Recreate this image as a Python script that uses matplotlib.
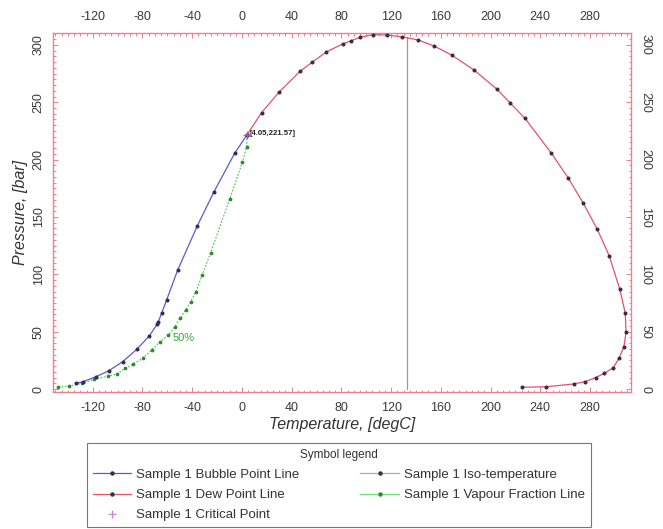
import matplotlib
matplotlib.use("Agg")
import matplotlib.pyplot as plt
from matplotlib.ticker import MultipleLocator
from matplotlib.lines import Line2D

plt.rcParams['font.family'] = ['Liberation Sans', 'DejaVu Sans']
plt.rcParams['axes.unicode_minus'] = False

# Bubble point line (temperature degC, pressure bar)
bubble_t = [-133.5, -127.7, -117.5, -107.0, -96.0, -84.7, -74.6, -68.0, -67.3,
            -64.6, -60.6, -51.7, -36.0, -22.5, -5.6, 4.05]
bubble_p = [5.0, 6.4, 10.7, 16.0, 23.8, 34.5, 46.2, 56.7, 58.7,
            66.0, 77.6, 103.7, 142.0, 172.0, 206.0, 221.57]

# Dew point line, from the critical point round to low pressure
dew_t = [4.05, 15.8, 30.0, 46.7, 56.6, 68.0, 81.0, 88.0, 95.0, 105.6, 117.0, 129.0,
         141.8, 154.7, 169.0, 186.9, 205.0, 215.6, 227.7, 249.0, 262.5, 274.6,
         285.8, 295.5, 304.0, 308.4, 309.0, 307.3, 303.3, 298.7, 291.5, 284.5,
         276.0, 267.0, 245.0, 225.0]
dew_p = [221.57, 241.0, 259.0, 277.0, 285.0, 294.0, 300.8, 303.7, 306.6, 309.0, 308.6,
         307.0, 304.3, 299.0, 291.0, 278.0, 261.5, 249.6, 236.0, 205.5, 184.0,
         162.0, 139.5, 116.0, 87.0, 66.0, 49.4, 36.9, 26.7, 18.6, 13.7, 9.9,
         6.4, 4.4, 2.0, 1.5]

# 50 % vapour fraction line
vap_t = [-147.8, -139.0, -129.0, -118.8, -107.6, -100.8, -94.0, -87.4, -79.9,
         -72.6, -66.0, -59.3, -53.9, -49.9, -45.3, -41.3, -37.0, -32.0, -25.2,
         -9.7, 0.3, 3.7, 4.05]
vap_p = [2.0, 2.6, 5.0, 8.4, 11.3, 13.0, 18.0, 21.8, 26.7,
         34.0, 41.2, 47.0, 54.3, 61.6, 68.9, 76.0, 84.8, 99.4, 118.8,
         166.0, 197.6, 211.0, 221.57]

# Iso-temperature line
iso_t = [132.5, 132.5]
iso_p = [0.0, 307.0]

# Critical point
crit_t = 4.05
crit_p = 221.57

x_ticks = [-120, -80, -40, 0, 40, 80, 120, 160, 200, 240, 280]
y_ticks = [0, 50, 100, 150, 200, 250, 300]

W, H = 663, 529
fig = plt.figure(figsize=(W / 100, H / 100), dpi=100)
fig.patch.set_facecolor('white')
ax = fig.add_axes([53 / W, 1 - 392 / H, (631 - 53) / W, (392 - 33) / H])

blue = '#5a5ad6'
red = '#e8506a'
green = '#3cc43c'
grey = '#9a9a9a'
mk = '#30304a'

ax.plot(bubble_t, bubble_p, color=blue, lw=0.9, marker='o', ms=1.9,
        mfc=mk, mec=mk, label='Sample 1 Bubble Point Line', zorder=3)
ax.plot(dew_t, dew_p, color=red, lw=0.9, marker='o', ms=1.9,
        mfc=mk, mec=mk, label='Sample 1 Dew Point Line', zorder=3)
ax.plot(vap_t, vap_p, color=green, lw=0.8, ls=(0, (1.5, 1.5)), marker='o', ms=1.7,
        mfc='#2f8a2f', mec='#2f8a2f', label='Sample 1 Vapour Fraction Line', zorder=2)
ax.plot(iso_t, iso_p, color=grey, lw=0.9, label='Sample 1 Iso-temperature', zorder=1)
ax.plot([crit_t], [crit_p], ls='none', marker='+', ms=6, mew=0.9, color='#d040d0',
        label='Sample 1 Critical Point', zorder=4)

ax.text(crit_t + 2.0, crit_p + 1.5, '[%.2f,%.2f]' % (crit_t, crit_p),
        fontsize=5.6, fontweight='bold', color='#222222', va='center', ha='left')
ax.text(-55.5, 44.5, '50%', fontsize=8, color='#33aa33', va='center', ha='left')

ax.set_xlim(-152, 313)
ax.set_ylim(-2.6, 310.4)

ax.xaxis.set_major_locator(MultipleLocator(40))
ax.xaxis.set_minor_locator(MultipleLocator(5))
ax.yaxis.set_major_locator(MultipleLocator(50))
ax.yaxis.set_minor_locator(MultipleLocator(5))
ax.set_xticks(x_ticks)
ax.set_yticks(y_ticks)

tick_col = '#ec8090'
ax.tick_params(which='both', direction='in', color=tick_col, width=0.7,
               top=True, bottom=True, left=True, right=True,
               labeltop=True, labelright=True, labelsize=9,
               labelcolor='#3a3a3a')
ax.tick_params(which='major', length=3.5, pad=6)
ax.tick_params(axis='x', which='major', pad=7)
ax.tick_params(which='minor', length=1.8)
ax.tick_params(axis='y', labelrotation=90)
for t in ax.yaxis.get_major_ticks():
    t.label1.set_rotation(90)
    t.label1.set_va('center')
    t.label2.set_rotation(-90)
    t.label2.set_va('center')

for s in ax.spines.values():
    s.set_color(tick_col)
    s.set_linewidth(1.0)
    s.set_linestyle((0, (1, 1)))

ax.set_xlabel('Temperature, [degC]', fontsize=11.5, style='italic',
              color='#333333', labelpad=2)
ax.set_ylabel('Pressure, [bar]', fontsize=11.5, style='italic',
              color='#333333', labelpad=3)

# Legend with a dot marker in the middle of each line sample
handles = [
    Line2D([], [], color=blue, lw=0.9, marker='o', ms=2.2, mfc=mk, mec=mk),
    Line2D([], [], color=red, lw=0.9, marker='o', ms=2.2, mfc=mk, mec=mk),
    Line2D([], [], ls='none', marker='+', ms=6, mew=0.9, color='#d080e0'),
    Line2D([], [], color='#b0b0b0', lw=0.9, marker='o', ms=2.2, mfc=mk, mec=mk),
    Line2D([], [], color='#70e070', lw=0.9, marker='o', ms=2.2, mfc='#2f8a2f', mec='#2f8a2f'),
]
labels = ['Sample 1 Bubble Point Line', 'Sample 1 Dew Point Line',
          'Sample 1 Critical Point', 'Sample 1 Iso-temperature',
          'Sample 1 Vapour Fraction Line']
leg = fig.legend(handles, labels, ncol=2, title='Symbol legend',
                 loc='upper left',
                 bbox_to_anchor=(87 / W, 1 - 443 / H),
                 borderaxespad=0, fontsize=9.5, title_fontsize=8.5,
                 frameon=True, fancybox=False, edgecolor='#555555',
                 handlelength=2.9, handletextpad=0.4, labelspacing=0.6,
                 borderpad=0.45, columnspacing=4.6, markerscale=1.0)
leg.get_frame().set_linewidth(0.8)
for txt in leg.get_texts():
    txt.set_color('#333333')
leg.get_title().set_color('#333333')

fig.savefig('out.png', dpi=100)
